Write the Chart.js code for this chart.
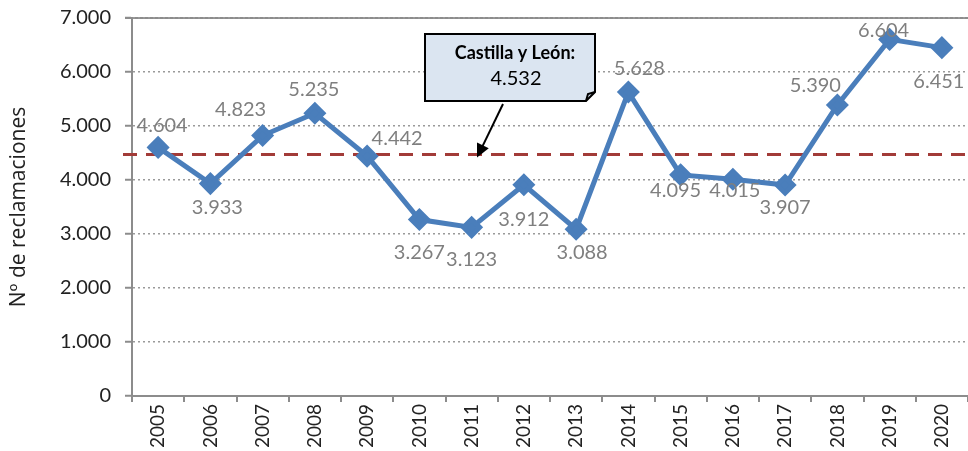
<!DOCTYPE html>
<html>
<head>
<meta charset="utf-8">
<script src="https://cdn.jsdelivr.net/npm/chart.js@4"></script>
<style>
  html, body { margin: 0; padding: 0; background: #fff; }
  #wrap { width: 968px; height: 451px; }
</style>
</head>
<body>
<div id="wrap"><canvas id="chart" width="968" height="451"></canvas></div>
<script>
const years = ["2005", "2006", "2007", "2008", "2009", "2010", "2011", "2012",
  "2013", "2014", "2015", "2016", "2017", "2018", "2019", "2020"];
const reclamaciones = [4604, 3933, 4823, 5235, 4442, 3267, 3123, 3912,
  3088, 5628, 4095, 4015, 3907, 5390, 6604, 6451];
const mediaValue = 4470;          // where the dashed line sits in the picture
const mediaLabel = ["Castilla y León:", "4.532"];
const yTicks = [0, 1000, 2000, 3000, 4000, 5000, 6000, 7000];

// label nudges (px) so the value labels sit like in the original
const labelOffsets = [[4,-22],[7,24],[-22,-26],[-1,-24],[30,-18],[0,33],[0,32],[0,35],
  [6,23],[11,-24],[-5,16],[2,11],[0,23],[-22,-19],[-6,-9],[-3,34]];

const FONT = "Lato";

function fmt(n) {
  return String(n).replace(/\B(?=(\d{3})+(?!\d))/g, ".");
}

const avgLine = {
  id: "avgLine",
  beforeDatasetsDraw(chart) {
    const ctx = chart.ctx, a = chart.chartArea;
    const y = chart.scales.y.getPixelForValue(mediaValue);
    ctx.save();
    ctx.strokeStyle = "#a23b38";
    ctx.lineWidth = 3;
    ctx.setLineDash([14, 9]);
    ctx.beginPath();
    ctx.moveTo(a.left - 9, y);
    ctx.lineTo(a.right, y);
    ctx.stroke();
    ctx.restore();
  },
  beforeDraw(chart) {
    // solid line along the top (7.000)
    const ctx = chart.ctx, a = chart.chartArea;
    ctx.save();
    ctx.strokeStyle = "#8c8c8c";
    ctx.lineWidth = 2;
    ctx.beginPath();
    ctx.moveTo(a.left - 7, a.top);
    ctx.lineTo(a.right, a.top);
    ctx.stroke();
    ctx.restore();
  }
};

const valueLabels = {
  id: "valueLabels",
  afterDatasetsDraw(chart) {
    const ctx = chart.ctx;
    const meta = chart.getDatasetMeta(0);
    ctx.save();
    ctx.font = "20px " + FONT;
    ctx.fillStyle = "#7f7f7f";
    ctx.textAlign = "center";
    ctx.textBaseline = "middle";
    meta.data.forEach((pt, i) => {
      const off = labelOffsets[i];
      ctx.fillText(fmt(reclamaciones[i]), pt.x + off[0], pt.y + off[1]);
    });
    ctx.restore();
  }
};

const callout = {
  id: "callout",
  afterDraw(chart) {
    const ctx = chart.ctx;
    const x0 = 425, y0 = 34, w = 170, h = 67, fold = 9;
    ctx.save();
    ctx.fillStyle = "#dbe5f1";
    ctx.strokeStyle = "#000";
    ctx.lineWidth = 2;
    ctx.beginPath();
    ctx.moveTo(x0, y0);
    ctx.lineTo(x0 + w, y0);
    ctx.lineTo(x0 + w, y0 + h - fold);
    ctx.lineTo(x0 + w - fold, y0 + h);
    ctx.lineTo(x0, y0 + h);
    ctx.closePath();
    ctx.fill();
    ctx.stroke();
    ctx.beginPath();
    ctx.moveTo(x0 + w, y0 + h - fold);
    ctx.lineTo(x0 + w - fold + 2, y0 + h - fold + 2);
    ctx.lineTo(x0 + w - fold, y0 + h);
    ctx.stroke();

    ctx.fillStyle = "#000";
    ctx.textAlign = "center";
    ctx.textBaseline = "middle";
    ctx.font = "bold 18px " + FONT;
    ctx.fillText(mediaLabel[0], 515, 53);
    ctx.font = "20px " + FONT;
    ctx.fillText(mediaLabel[1], 516, 79);

    // arrow to the dashed line
    const tipY = chart.scales.y.getPixelForValue(mediaValue) + 3;
    const sx = 503, sy = 104, tx = 477;
    const ang = Math.atan2(tipY - sy, tx - sx);
    ctx.lineWidth = 2;
    ctx.beginPath();
    ctx.moveTo(sx, sy);
    ctx.lineTo(tx - Math.cos(ang) * 10, tipY - Math.sin(ang) * 10);
    ctx.stroke();
    ctx.beginPath();
    ctx.moveTo(tx, tipY);
    ctx.lineTo(tx - Math.cos(ang - 0.45) * 15, tipY - Math.sin(ang - 0.45) * 15);
    ctx.lineTo(tx - Math.cos(ang + 0.45) * 15, tipY - Math.sin(ang + 0.45) * 15);
    ctx.closePath();
    ctx.fill();
    ctx.restore();
  }
};

const data = {
  labels: years,
  datasets: [
    {
      label: "Nº de reclamaciones",
      data: reclamaciones,
      borderColor: "#4a7ebb",
      backgroundColor: "#4a7ebb",
      borderWidth: 5,
      pointStyle: "rectRot",
      pointRadius: 8,
      pointHoverRadius: 8,
      pointBackgroundColor: "#4a7ebb",
      pointBorderColor: "#4a7ebb",
      tension: 0,
      clip: false,
    },
  ],
};

const config = {
  type: "line",
  data: data,
  options: {
    responsive: false,
    animation: false,
    events: [],
    layout: { autoPadding: false, padding: { top: 18, right: 0, left: 0, bottom: 0 } },
    plugins: { legend: { display: false }, tooltip: { enabled: false } },
    scales: {
      x: {
        offset: true,
        grid: { offset: true, drawOnChartArea: false, color: "#8c8c8c", lineWidth: 2, tickLength: 6 },
        border: { color: "#8c8c8c", width: 2 },
        ticks: { color: "#222", font: { family: FONT, size: 19 }, minRotation: 90, maxRotation: 90, padding: 2, autoSkip: false },
        afterFit(scale) { scale.height = 55; scale.paddingLeft = 0; scale.paddingRight = 0; },
      },
      y: {
        min: 0,
        max: 7000,
        afterBuildTicks(scale) { scale.ticks = yTicks.map(v => ({ value: v })); },
        grid: {
          color: (c) => c.tick && c.tick.value === 0 ? "rgba(0,0,0,0)" : "#9a9a9a",
          lineWidth: 1.5,
          tickLength: 7,
          tickColor: "#8c8c8c",
          tickWidth: 2,
          tickBorderDash: [],
        },
        border: { color: "#8c8c8c", width: 2, dash: [2, 3] },
        ticks: { color: "#222", font: { family: FONT, size: 20 }, padding: 14, callback: (v) => fmt(v) },
        title: { display: true, text: "Nº de reclamaciones", color: "#222", font: { family: "Open Sans", size: 21 }, padding: { top: 6, bottom: 0 } },
        afterFit(scale) { scale.width = 132; scale.paddingTop = 0; scale.paddingBottom = 0; },
      },
    },
  },
  plugins: [avgLine, valueLabels, callout],
};

const chart = new Chart(document.getElementById("chart").getContext("2d"), config);
</script>
</body>
</html>
